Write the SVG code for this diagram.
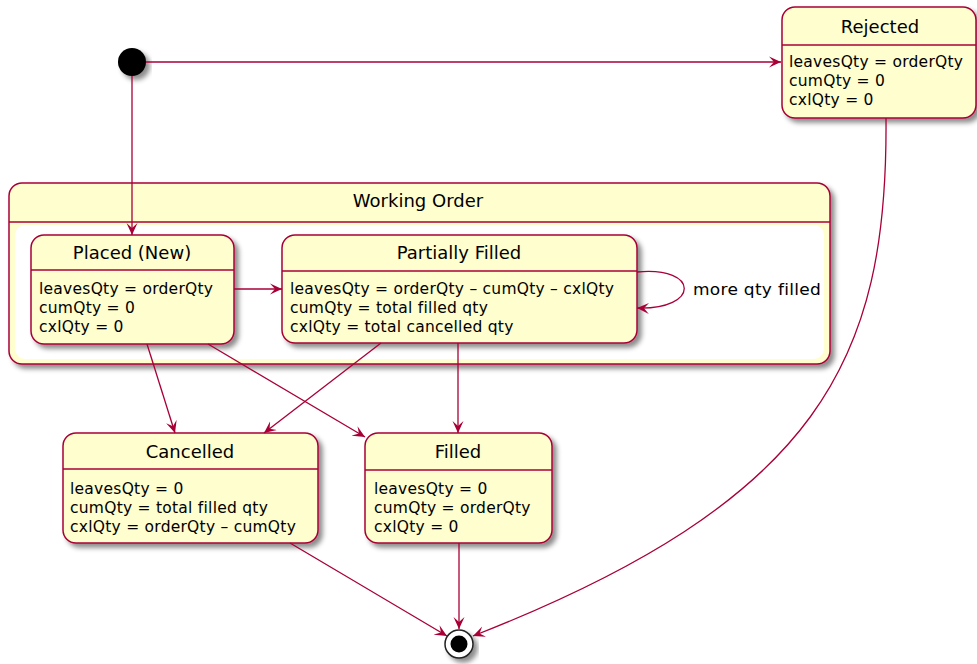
<svg xmlns="http://www.w3.org/2000/svg" width="977" height="664" viewBox="0 0 977 664">
<style>
.box{fill:#FEFECE;stroke:#A80036;stroke-width:1.5}
.sep{stroke:#A80036;stroke-width:1.5}
.title{font-family:"DejaVu Sans",Verdana,sans-serif;font-size:18px;fill:#000;text-anchor:middle}
.body{font-family:"DejaVu Sans",Verdana,sans-serif;font-size:15.5px;fill:#000;letter-spacing:0.25px}
.edge{fill:none;stroke:#A80036;stroke-width:1.3}
</style>
<defs>
<filter id="sh" x="-10%" y="-10%" width="130%" height="140%">
<feDropShadow dx="4" dy="4" stdDeviation="2.5" flood-color="#000" flood-opacity="0.45"/>
</filter>
<marker id="ah" markerWidth="14" markerHeight="12" refX="12" refY="6" orient="auto" markerUnits="userSpaceOnUse">
<path d="M0,0.5 L12,6 L0,11.5 L5,6 Z" fill="#A80036"/>
</marker>
</defs>
<rect width="977" height="664" fill="#fff"/>

<g id="start">
<circle cx="132" cy="62" r="14" fill="#000" filter="url(#sh)"/>
</g>

<g id="rejected">
<rect class="box" x="782" y="7" width="194" height="111" rx="13" filter="url(#sh)"/>
<line class="sep" x1="782" y1="45" x2="976" y2="45"/>
<text class="title" x="880" y="33">Rejected</text>
<text class="body" x="789" y="67">leavesQty = orderQty</text>
<text class="body" x="789" y="86">cumQty = 0</text>
<text class="body" x="789" y="105">cxlQty = 0</text>
</g>

<g id="working-order">
<rect class="box" x="9" y="183" width="821" height="181" rx="13" filter="url(#sh)"/>
<rect x="15" y="225" width="809" height="134" rx="10" fill="#fff"/>
<line class="sep" x1="9" y1="222" x2="830" y2="222"/>
<text class="title" x="418" y="207">Working Order</text>
</g>

<g id="placed">
<rect class="box" x="31" y="235" width="203" height="109" rx="13" filter="url(#sh)"/>
<line class="sep" x1="31" y1="270" x2="234" y2="270"/>
<text class="title" x="132" y="259">Placed (New)</text>
<text class="body" x="39" y="294">leavesQty = orderQty</text>
<text class="body" x="39" y="313">cumQty = 0</text>
<text class="body" x="39" y="332">cxlQty = 0</text>
</g>

<g id="partially-filled">
<rect class="box" x="282" y="235" width="355" height="108" rx="13" filter="url(#sh)"/>
<line class="sep" x1="282" y1="271" x2="637" y2="271"/>
<text class="title" x="459" y="259">Partially Filled</text>
<text class="body" x="290" y="294">leavesQty = orderQty – cumQty – cxlQty</text>
<text class="body" x="290" y="313">cumQty = total filled qty</text>
<text class="body" x="290" y="332">cxlQty = total cancelled qty</text>
</g>

<g id="cancelled">
<rect class="box" x="63" y="433" width="255" height="110" rx="13" filter="url(#sh)"/>
<line class="sep" x1="63" y1="469" x2="318" y2="469"/>
<text class="title" x="190" y="458">Cancelled</text>
<text class="body" x="70" y="494">leavesQty = 0</text>
<text class="body" x="70" y="513">cumQty = total filled qty</text>
<text class="body" x="70" y="532">cxlQty = orderQty – cumQty</text>
</g>

<g id="filled">
<rect class="box" x="365" y="433" width="187" height="110" rx="13" filter="url(#sh)"/>
<line class="sep" x1="365" y1="470" x2="552" y2="470"/>
<text class="title" x="458" y="458">Filled</text>
<text class="body" x="374" y="494">leavesQty = 0</text>
<text class="body" x="374" y="513">cumQty = orderQty</text>
<text class="body" x="374" y="532">cxlQty = 0</text>
</g>

<g id="end">
<circle cx="459" cy="644" r="14" fill="#fff" stroke="#222" stroke-width="1.5" filter="url(#sh)"/>
<circle cx="459" cy="644" r="8.5" fill="#000"/>
</g>

<g id="connectors">
<path class="edge" d="M146,62 L781,62" marker-end="url(#ah)"/>
<path class="edge" d="M132,76 L132,235" marker-end="url(#ah)"/>
<path class="edge" d="M234,289 L282,289" marker-end="url(#ah)"/>
<path class="edge" d="M637,272 C700,266 700,310 637,308" marker-end="url(#ah)"/>
<text class="body" x="693" y="295" textLength="128" lengthAdjust="spacingAndGlyphs">more qty filled</text>
<path class="edge" d="M147,344 L175,433" marker-end="url(#ah)"/>
<path class="edge" d="M208,344 L365,437" marker-end="url(#ah)"/>
<path class="edge" d="M381,343 L264,433" marker-end="url(#ah)"/>
<path class="edge" d="M458,343 L458,433" marker-end="url(#ah)"/>
<path class="edge" d="M290,543 L447,636" marker-end="url(#ah)"/>
<path class="edge" d="M459,543 L459,629" marker-end="url(#ah)"/>
<path class="edge" d="M886,118 C888,360 820,500 473,636" marker-end="url(#ah)"/>
</g>
</svg>
